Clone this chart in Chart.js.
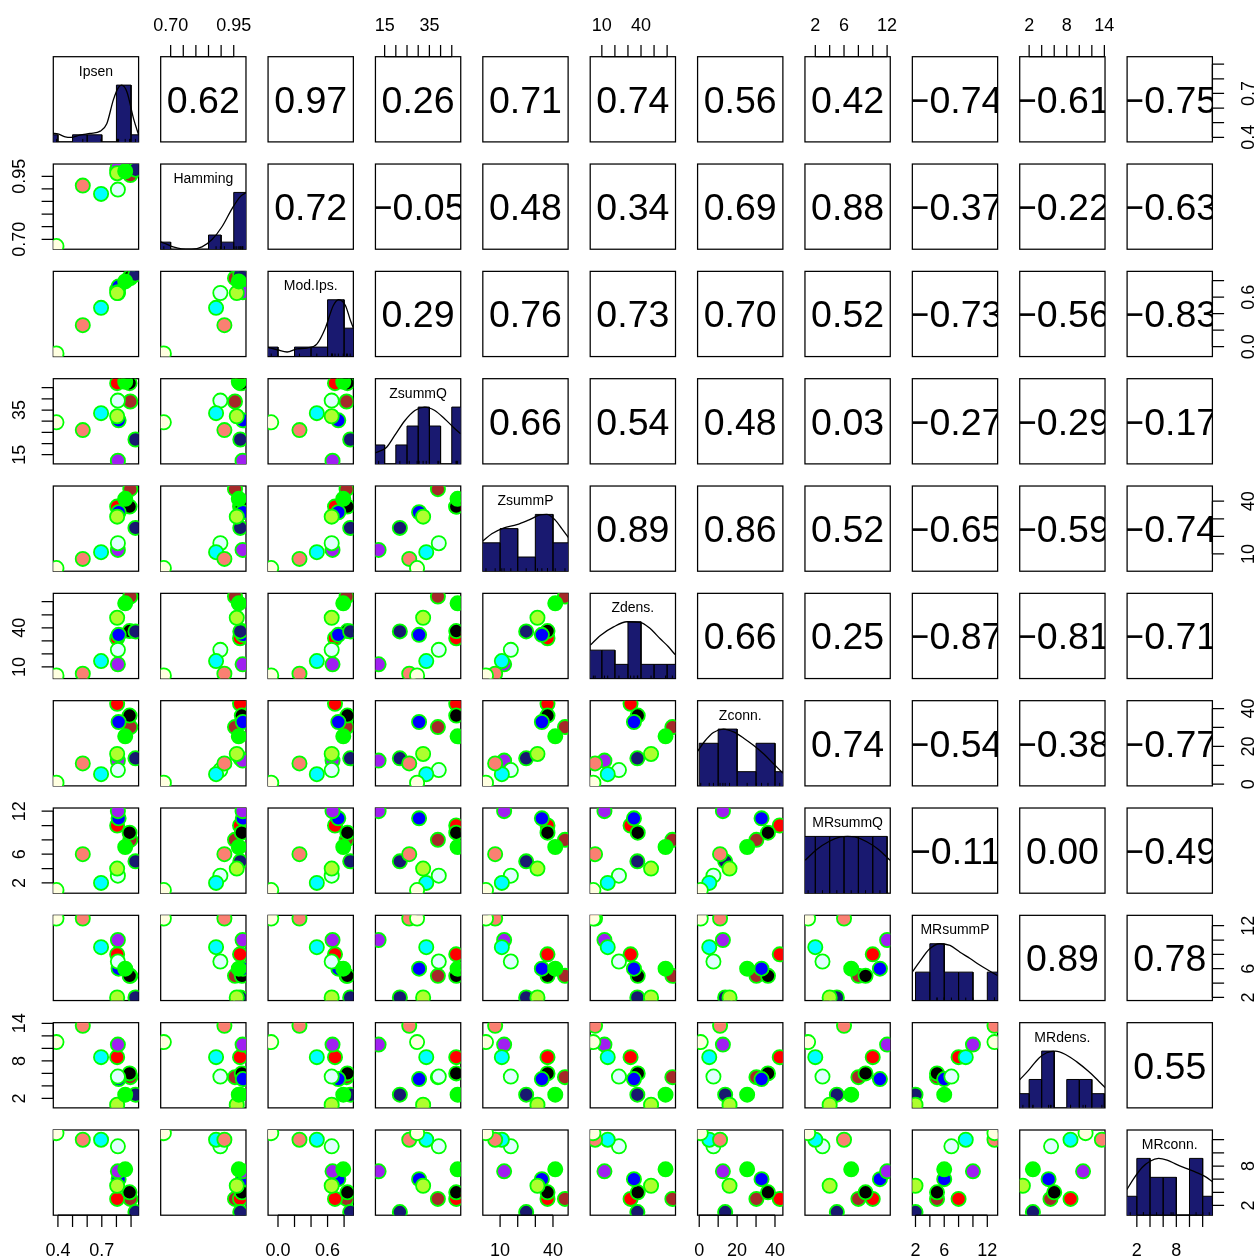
<!DOCTYPE html>
<html>
<head>
<meta charset="utf-8">
<script src="https://cdn.jsdelivr.net/npm/chart.js@4.4.1/dist/chart.umd.min.js"></script>
<style>
  html, body { margin: 0; padding: 0; background: #ffffff; overflow: hidden; }
  #page { position: relative; width: 1255px; height: 1259px; overflow: hidden; background: #ffffff; }
  #page canvas { position: absolute; }
</style>
</head>
<body>
<div id="page"></div>
<script>
// ---- variables of the scatterplot matrix ----
const varNames = ['Ipsen', 'Hamming', 'Mod.Ips.', 'ZsummQ', 'ZsummP', 'Zdens.', 'Zconn.',
                  'MRsummQ', 'MRsummP', 'MRdens.', 'MRconn.'];

// observations, listed in drawing order:
// brown, red, black, blue, navy, purple, lightcyan, cyan, salmon, ivory, greenyellow, green
const obsFill = ['#A52A2A', '#FF0000', '#000000', '#0000FF', '#191970', '#A020F0',
                 '#E0FFFF', '#00FFFF', '#FA8072', '#FFFFE0', '#ADFF2F', '#00FF00'];
const pointEdge = '#00FF00';

const ipsen   = [0.895, 0.805, 0.89, 0.815, 0.93, 0.81, 0.81, 0.695, 0.57, 0.39, 0.805, 0.86];
const hamming = [0.955, 0.975, 0.982, 0.986, 0.976, 0.985, 0.897, 0.880, 0.913, 0.673, 0.962, 0.970];
const modIps  = [0.83, 0.69, 0.84, 0.73, 0.874, 0.66, 0.65, 0.47, 0.26, -0.082, 0.65, 0.79];
const zsummQ  = [38.8, 47.0, 47.0, 30.4, 21.8, 12.3, 39.2, 33.6, 26.0, 29.5, 32.2, 47.6];
const zsummP  = [46.8, 36.9, 36.9, 33.7, 24.8, 12.3, 16.1, 11.0, 7.2, 2.0, 31.2, 41.3];
const zdens   = [64.0, 32.0, 37.5, 34.6, 37.2, 12.0, 23.1, 14.5, 4.8, 3.5, 47.7, 58.8];
const zconn   = [30.2, 42.5, 36.3, 32.9, 13.7, 12.5, 7.5, 5.3, 11.0, 0.8, 16.0, 25.3];
const mrsummQ = [8, 10, 9, 11, 5, 12, 3, 2, 6, 1, 4, 7];
const mrsummP = [5, 8, 5, 6, 2, 10, 7, 9, 13, 13, 2, 6];
const mrdens  = [5.4, 8.6, 6.0, 5.1, 2.6, 10.6, 5.5, 8.6, 13.6, 11.0, 1.0, 2.6];
const mrconn  = [3, 3, 4, 6, 1, 7.2, 11, 12, 12, 13, 5, 7.5];

const values = [ipsen, hamming, modIps, zsummQ, zsummP, zdens, zconn, mrsummQ, mrsummP, mrdens, mrconn];

// histogram breaks and counts shown on the diagonal
const histBreaks = [
  [0.3, 0.4, 0.5, 0.6, 0.7, 0.8, 0.9, 1.0],
  [0.65, 0.70, 0.75, 0.80, 0.85, 0.90, 0.95, 1.00],
  [-0.2, 0.0, 0.2, 0.4, 0.6, 0.8, 1.0],
  [10, 15, 20, 25, 30, 35, 40, 45, 50],
  [0, 10, 20, 30, 40, 50],
  [0, 10, 20, 30, 40, 50, 60, 70],
  [0, 10, 20, 30, 40, 50],
  [0, 2, 4, 6, 8, 10, 12],
  [2, 4, 6, 8, 10, 12, 14],
  [0, 2, 4, 6, 8, 10, 12, 14],
  [0, 2, 4, 6, 8, 10, 12, 14]
];
const histCounts = [
  [1, 0, 1, 1, 0, 8, 1],
  [1, 0, 0, 0, 2, 1, 8],
  [1, 0, 1, 1, 6, 3],
  [1, 0, 1, 2, 3, 2, 0, 3],
  [2, 3, 1, 4, 2],
  [2, 2, 1, 4, 1, 1, 1],
  [3, 4, 1, 3, 1],
  [2, 2, 2, 2, 2, 2],
  [2, 4, 2, 2, 0, 2],
  [1, 2, 4, 0, 2, 2, 1],
  [1, 3, 2, 2, 0, 3, 1]
];

// density curves on the diagonal, [value, height relative to the tallest bar]
const densIpsen   = [[0.366,0.15],[0.40,0.14],[0.45,0.09],[0.49,0.08],[0.55,0.12],[0.62,0.15],[0.69,0.19],[0.734,0.32],[0.779,0.74],[0.814,0.96],[0.835,1.0],[0.872,0.88],[0.917,0.41],[0.952,0.12]];
const densHamming = [[0.66,0.13],[0.684,0.09],[0.71,0.04],[0.744,0.005],[0.784,0.0],[0.824,0.04],[0.864,0.17],[0.904,0.4],[0.944,0.72],[0.977,0.93],[1.0,1.0]];
const densModIps  = [[-0.121,0.16],[-0.01,0.12],[0.11,0.08],[0.23,0.135],[0.35,0.15],[0.47,0.22],[0.57,0.49],[0.67,0.9],[0.735,1.0],[0.816,0.9],[0.876,0.64],[0.916,0.49]];
const densZsummQ  = [[10.5,0.19],[15.8,0.29],[19.5,0.5],[24,0.76],[28.5,0.94],[32.9,1.0],[37.4,0.94],[41.9,0.79],[45.6,0.65],[48.9,0.53]];
const densZsummP  = [[0.17,0.53],[5.3,0.66],[11.9,0.76],[19.5,0.82],[26.1,0.9],[32.7,0.99],[36.5,1.0],[41.3,0.9],[45.0,0.75],[48.8,0.59]];
const densZdens   = [[1.2,0.59],[8.9,0.76],[19,0.91],[29.2,1.0],[39.4,0.99],[47,0.88],[54.7,0.7],[61,0.56],[66.1,0.42]];
const densZconn   = [[-1.07,0.6],[3.0,0.79],[7.5,0.94],[12.8,1.0],[18.1,0.95],[23.5,0.84],[28.8,0.71],[34.1,0.56],[39.5,0.38],[44.3,0.22]];
const densMRsummQ = [[0.6,0.58],[2.2,0.77],[3.9,0.91],[5.5,0.99],[6.5,1.0],[7.5,0.99],[9.1,0.91],[10.8,0.77],[12.4,0.58]];
const densMRsummP = [[1.48,0.49],[2.56,0.68],[3.98,0.91],[5.39,1.0],[6.8,0.97],[8.2,0.85],[9.6,0.74],[11.0,0.62],[12.2,0.53],[13.4,0.44]];
const densMRdens  = [[0.45,0.49],[1.9,0.66],[3.5,0.87],[4.8,0.97],[6.2,1.0],[7.8,0.94],[9.6,0.81],[11.5,0.64],[13.1,0.47],[14.2,0.35]];
const densMRconn  = [[0.48,0.45],[1.5,0.64],[2.8,0.84],[4.0,0.95],[5.3,1.0],[6.6,0.97],[8.1,0.89],[9.6,0.82],[11.1,0.75],[12.4,0.68],[13.5,0.59]];
const densCurves = [densIpsen, densHamming, densModIps, densZsummQ, densZsummP, densZdens,
                    densZconn, densMRsummQ, densMRsummP, densMRdens, densMRconn];

// correlation labels of the upper panels (row i, columns i+1 .. 10)
const M = '\u2212';
const corrText = [
  ['0.62', '0.97', '0.26', '0.71', '0.74', '0.56', '0.42', M+'0.74', M+'0.61', M+'0.75'],
  ['0.72', M+'0.05', '0.48', '0.34', '0.69', '0.88', M+'0.37', M+'0.22', M+'0.63'],
  ['0.29', '0.76', '0.73', '0.70', '0.52', M+'0.73', M+'0.56', M+'0.83'],
  ['0.66', '0.54', '0.48', '0.03', M+'0.27', M+'0.29', M+'0.17'],
  ['0.89', '0.86', '0.52', M+'0.65', M+'0.59', M+'0.74'],
  ['0.66', '0.25', M+'0.87', M+'0.81', M+'0.71'],
  ['0.74', M+'0.54', M+'0.38', M+'0.77'],
  [M+'0.11', '0.00', M+'0.49'],
  ['0.89', '0.78'],
  ['0.55']
];

// outer axis ticks for each variable ('' = tick without a label)
const tickValues = [
  [0.4, 0.5, 0.6, 0.7, 0.8, 0.9],
  [0.70, 0.75, 0.80, 0.85, 0.90, 0.95],
  [0.0, 0.2, 0.4, 0.6, 0.8],
  [15, 20, 25, 30, 35, 40, 45],
  [10, 20, 30, 40],
  [10, 20, 30, 40, 50, 60],
  [0, 10, 20, 30, 40],
  [2, 4, 6, 8, 10, 12],
  [2, 4, 6, 8, 10, 12],
  [2, 4, 6, 8, 10, 12, 14],
  [2, 4, 6, 8, 10, 12]
];
const tickLabels = [
  ['0.4', '', '', '0.7', '', ''],
  ['0.70', '', '', '', '', '0.95'],
  ['0.0', '', '', '0.6', ''],
  ['15', '', '', '', '35', '', ''],
  ['10', '', '', '40'],
  ['10', '', '', '40', '', ''],
  ['0', '', '20', '', '40'],
  ['2', '', '6', '', '', '12'],
  ['2', '', '6', '', '', '12'],
  ['2', '', '', '8', '', '', '14'],
  ['2', '', '', '8', '', '']
];

// ---- layout ----
const X0 = 53.3, DX = 107.38, Y0 = 56.7, DY = 107.33, PW = 85.3, PH = 85.2;
const TICK = 11.7;
const LINE_W = 1.25;
const MARGIN = 48;
const BAR_FILL = '#191970';
const FONT = '"Liberation Sans", Arial, Helvetica, sans-serif';
const N = varNames.length;

// axis limits: data range widened by 4% on each side
const limits = values.map(v => {
  const lo = Math.min(...v), hi = Math.max(...v), e = (hi - lo) * 0.04;
  return [lo - e, hi + e];
});

function drawAxis(chart, side, k) {
  const { ctx, chartArea: a } = chart;
  const horiz = side === 'top' || side === 'bottom';
  const scale = horiz ? chart.scales.x : (chart.scales.yv || chart.scales.y);
  const px = tickValues[k].map(v => scale.getPixelForValue(v));
  const labs = tickLabels[k];
  ctx.save();
  ctx.strokeStyle = '#000';
  ctx.fillStyle = '#000';
  ctx.lineWidth = LINE_W;
  ctx.font = '18px ' + FONT;
  ctx.beginPath();
  if (horiz) {
    const y = side === 'top' ? a.top : a.bottom;
    const d = side === 'top' ? -TICK : TICK;
    ctx.moveTo(px[0], y); ctx.lineTo(px[px.length - 1], y);
    px.forEach(p => { ctx.moveTo(p, y); ctx.lineTo(p, y + d); });
    ctx.stroke();
    ctx.textAlign = 'center';
    ctx.textBaseline = 'alphabetic';
    const ly = side === 'top' ? a.top - 26 : a.bottom + 40.8;
    labs.forEach((t, n) => { if (t) ctx.fillText(t, px[n], ly); });
  } else {
    const x = side === 'left' ? a.left : a.right;
    const d = side === 'left' ? -TICK : TICK;
    ctx.moveTo(x, px[0]); ctx.lineTo(x, px[px.length - 1]);
    px.forEach(p => { ctx.moveTo(x, p); ctx.lineTo(x + d, p); });
    ctx.stroke();
    ctx.textAlign = 'center';
    ctx.textBaseline = 'alphabetic';
    const lx = side === 'left' ? a.left - 28.3 : a.right + 41.3;
    labs.forEach((t, n) => {
      if (!t) return;
      ctx.save();
      ctx.translate(lx, px[n]);
      ctx.rotate(-Math.PI / 2);
      ctx.fillText(t, 0, 0);
      ctx.restore();
    });
  }
  ctx.restore();
}

const panelDecor = {
  id: 'panelDecor',
  beforeDatasetsDraw(chart) {
    const { ctx, chartArea: a } = chart;
    ctx.save();
    ctx.strokeStyle = '#000';
    ctx.lineWidth = LINE_W;
    ctx.strokeRect(a.left, a.top, a.right - a.left, a.bottom - a.top);
    ctx.restore();
  },
  afterDatasetsDraw(chart) {
    const info = chart.canvas._panel;
    const { ctx, chartArea: a } = chart;
    const cx = (a.left + a.right) / 2, cy = (a.top + a.bottom) / 2;
    if (info.i < info.j) {
      const s = 37.5;
      ctx.save();
      ctx.beginPath();
      ctx.rect(a.left, a.top, a.right - a.left, a.bottom - a.top);
      ctx.clip();
      ctx.fillStyle = '#000';
      ctx.font = s + 'px ' + FONT;
      ctx.textAlign = 'center';
      ctx.textBaseline = 'alphabetic';
      ctx.fillText(corrText[info.i][info.j - info.i - 1], cx, cy + 0.358 * s);
      ctx.restore();
    } else if (info.i === info.j) {
      ctx.save();
      ctx.fillStyle = '#000';
      ctx.font = '14px ' + FONT;
      ctx.textAlign = 'center';
      ctx.textBaseline = 'alphabetic';
      ctx.fillText(varNames[info.i], cx, a.top + 19);
      ctx.restore();
    }
    info.axes.forEach(([side, k]) => drawAxis(chart, side, k));
  }
};

function histOutline(k) {
  const brk = histBreaks[k], cnt = histCounts[k];
  const top = Math.max(...cnt);
  const pts = [];
  cnt.forEach((c, n) => {
    const h = c / top;
    pts.push({ x: brk[n], y: 0 }, { x: brk[n], y: h }, { x: brk[n + 1], y: h }, { x: brk[n + 1], y: 0 });
  });
  return pts;
}

const page = document.getElementById('page');

function makePanel(i, j) {
  const left = X0 + j * DX, top = Y0 + i * DY;
  const axes = [];
  if (i === 0 && j % 2 === 1) axes.push(['top', j]);
  if (i === N - 1 && j % 2 === 0) axes.push(['bottom', j]);
  if (j === 0 && i % 2 === 1) axes.push(['left', i]);
  if (j === N - 1 && i % 2 === 0) axes.push(['right', i]);
  const cx = Math.floor(left - MARGIN), cy = Math.floor(top - MARGIN);
  const cw = Math.ceil(left + PW + MARGIN) - cx, ch = Math.ceil(top + PH + MARGIN) - cy;

  const canvas = document.createElement('canvas');
  canvas.width = cw; canvas.height = ch;
  canvas.style.left = cx + 'px'; canvas.style.top = cy + 'px';
  canvas.style.width = cw + 'px'; canvas.style.height = ch + 'px';
  canvas._panel = { i, j, axes };
  page.appendChild(canvas);

  const scales = {
    x: { type: 'linear', display: false, min: limits[j][0], max: limits[j][1] },
    y: { type: 'linear', display: false, min: limits[i][0], max: limits[i][1] }
  };
  let datasets = [];
  if (i > j) {
    datasets = [{
      type: 'scatter',
      data: values[j].map((v, n) => ({ x: v, y: values[i][n] })),
      showLine: false,
      pointRadius: 7.1,
      pointBorderWidth: 1.8,
      pointBackgroundColor: obsFill,
      pointBorderColor: pointEdge,
      clip: 0
    }];
  } else if (i === j) {
    scales.y = { type: 'linear', display: false, min: 0, max: 1.5 };
    scales.yv = { type: 'linear', display: false, position: 'right', min: limits[i][0], max: limits[i][1] };
    datasets = [
      {
        type: 'line', data: histOutline(i), order: 3,
        borderColor: '#000', borderWidth: 1, backgroundColor: BAR_FILL,
        fill: 'origin', pointRadius: 0, tension: 0, clip: 0
      },
      {
        type: 'line', data: densCurves[i].map(([x, y]) => ({ x, y })), order: 2,
        borderColor: '#000', borderWidth: 1.3, fill: false, pointRadius: 0,
        cubicInterpolationMode: 'monotone', clip: 0
      },
      {
        type: 'scatter', data: values[i].map(v => ({ x: v, y: 0 })), order: 1,
        showLine: false, pointStyle: 'line', pointRotation: 90, pointRadius: 3,
        pointBorderColor: '#000', pointBorderWidth: 1, clip: 0
      }
    ];
  }

  new Chart(canvas, {
    type: 'scatter',
    data: { datasets },
    options: {
      responsive: false,
      maintainAspectRatio: false,
      devicePixelRatio: 1,
      animation: false,
      events: [],
      layout: { padding: { left: left - cx, right: cx + cw - (left + PW), top: top - cy, bottom: cy + ch - (top + PH) } },
      scales,
      plugins: { legend: { display: false }, tooltip: { enabled: false } }
    },
    plugins: [panelDecor]
  });
}

for (let i = 0; i < N; i++) {
  for (let j = 0; j < N; j++) makePanel(i, j);
}
</script>
</body>
</html>
